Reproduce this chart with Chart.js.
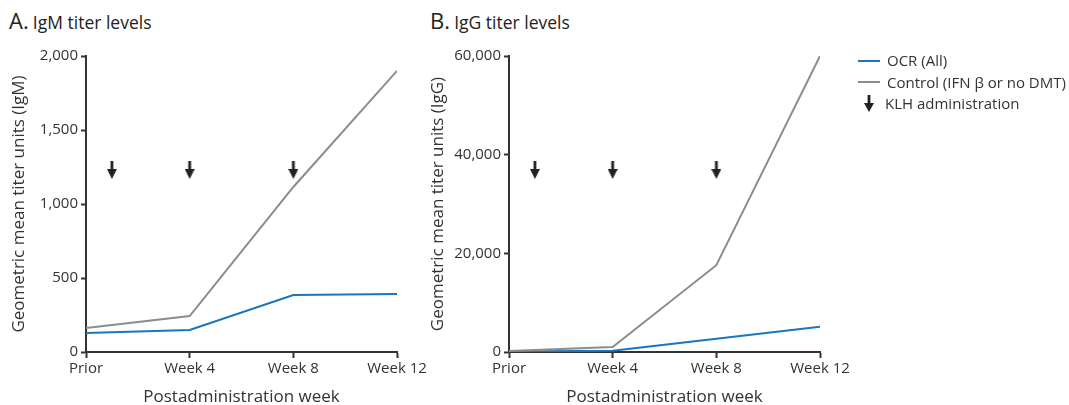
<!DOCTYPE html>
<html>
<head>
<meta charset="utf-8">
<script src="https://cdn.jsdelivr.net/npm/chart.js@4.4.0/dist/chart.umd.min.js"></script>
<style>
  html, body { margin: 0; padding: 0; background: #fff; }
  body { width: 1069px; height: 405px; position: relative; overflow: hidden; font-family: "Open Sans", sans-serif; color: #333; }
  .panel { position: absolute; top: 0; height: 405px; }
  .title { position: absolute; top: 5px; white-space: nowrap; color: #222; }
  .title .letter { font-size: 22px; }
  .title .txt { font-size: 17.5px; }
  .legend { position: absolute; left: 858px; top: 50px; font-size: 15px; color: #333; }
  .legend div { height: 21.5px; line-height: 21.5px; white-space: nowrap; }
  .swatch { display: inline-block; width: 22px; height: 2px; vertical-align: middle; margin-right: 7px; position: relative; top: -1px; }
  .legend svg { vertical-align: middle; margin: 0 11px 0 6px; position: relative; top: -1px; }
</style>
</head>
<body>
<div class="title" style="left:9px"><span class="letter">A.</span> <span class="txt">IgM titer levels</span></div>
<div class="title" style="left:430px"><span class="letter">B.</span> <span class="txt">IgG titer levels</span></div>

<div class="panel" style="left:0;width:430px"><canvas id="chartA" width="430" height="405"></canvas></div>
<div class="panel" style="left:420px;width:440px"><canvas id="chartB" width="440" height="405"></canvas></div>

<div class="legend">
  <div><span class="swatch" style="background:#1b75bb"></span>OCR (All)</div>
  <div><span class="swatch" style="background:#8c8c8c"></span>Control (IFN β or no DMT)</div>
  <div><svg width="10" height="17" viewBox="0 0 10 17"><rect x="3.6" y="0" width="2.8" height="10" fill="#222"/><polygon points="0,8 10,8 5,17" fill="#222"/></svg>KLH administration</div>
</div>

<script>
// x positions (weeks after first dose)
var weeks = [0, 4, 8, 12];
var weekLabels = ['Prior', 'Week 4', 'Week 8', 'Week 12'];
var klhWeeks = [1, 4, 8];

// IgM geometric mean titer
var igmOcr = [128, 149, 385, 392];
var igmControl = [162, 243, 1115, 1900];

// IgG geometric mean titer
var iggOcr = [100, 250, 2700, 5100];
var iggControl = [200, 1000, 17600, 60000];

var blue = '#1b75bb';
var grey = '#8c8c8c';
var axisColor = '#333';

// arrow marker for KLH doses
function makeArrow() {
    var c = document.createElement('canvas');
    c.width = 10; c.height = 18;
    var ctx = c.getContext('2d');
    ctx.fillStyle = '#222';
    ctx.fillRect(3.6, 0, 2.8, 10);
    ctx.beginPath();
    ctx.moveTo(0, 8);
    ctx.lineTo(10, 8);
    ctx.lineTo(5, 18);
    ctx.closePath();
    ctx.fill();
    return c;
}
var arrowImg = makeArrow();

function toPoints(ys) {
    return weeks.map(function(w, i) { return {x: w, y: ys[i]}; });
}

function buildChart(id, ocr, control, yMax, yStep, yTitle, arrowLevel, yWidth, titlePad, rightPad) {
    var arrows = klhWeeks.map(function(w) { return {x: w, y: arrowLevel}; });
    return new Chart(document.getElementById(id), {
        type: 'line',
        data: {
            datasets: [
                { data: toPoints(control), borderColor: grey, borderWidth: 2, pointRadius: 0, tension: 0 },
                { data: toPoints(ocr), borderColor: blue, borderWidth: 2, pointRadius: 0, tension: 0 },
                { data: arrows, showLine: false, pointStyle: arrowImg, pointRadius: 9 }
            ]
        },
        options: {
            responsive: false,
            animation: false,
            layout: { padding: { top: 56, right: rightPad, bottom: 0, left: 0 } },
            plugins: { legend: { display: false }, tooltip: { enabled: false } },
            scales: {
                x: {
                    type: 'linear',
                    min: 0, max: 12,
                    afterBuildTicks: function(scale) {
                        scale.ticks = weeks.map(function(w) { return {value: w}; });
                    },
                    ticks: {
                        color: axisColor,
                        font: { family: 'Open Sans', size: 15 },
                        padding: 2,
                        maxRotation: 0,
                        callback: function(v) { return weekLabels[weeks.indexOf(v)]; }
                    },
                    grid: { drawOnChartArea: false, tickLength: 6, tickColor: axisColor, tickWidth: 2 },
                    border: { color: axisColor, width: 2 },
                    title: {
                        display: true, text: 'Postadministration week', color: axisColor,
                        font: { family: 'Open Sans', size: 17 }, padding: { top: 0, bottom: -2 }
                    },
                    afterFit: function(scale) { scale.height = 53; }
                },
                y: {
                    min: 0, max: yMax,
                    ticks: {
                        stepSize: yStep,
                        color: axisColor,
                        font: { family: 'Open Sans', size: 15 },
                        padding: 3,
                        callback: function(v) { return v.toLocaleString('en-US'); }
                    },
                    grid: { drawOnChartArea: false, tickLength: 5, tickColor: axisColor, tickWidth: 2 },
                    border: { color: axisColor, width: 2 },
                    title: {
                        display: true, text: yTitle, color: axisColor,
                        font: { family: 'Open Sans', size: 17 }, padding: { top: titlePad, bottom: 0 }
                    },
                    afterFit: function(scale) { scale.width = yWidth; }
                }
            }
        }
    });
}

buildChart('chartA', igmOcr, igmControl, 2000, 500, 'Geometric mean titer units (IgM)', 1230, 86, 9, 33);
buildChart('chartB', iggOcr, iggControl, 60000, 20000, 'Geometric mean titer units (IgG)', 36900, 89, 8, 40);
</script>
</body>
</html>
